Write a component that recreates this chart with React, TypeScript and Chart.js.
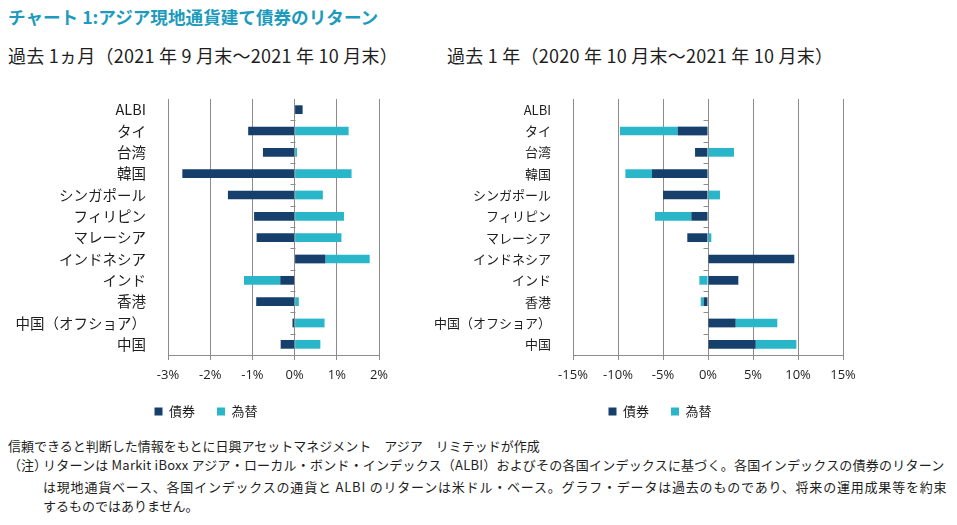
import React, { useEffect, useRef } from "react";
import { Chart, registerables } from "chart.js";

Chart.register(...registerables);

// ---- data ----
const categories = [
  "ALBI",
  "タイ",
  "台湾",
  "韓国",
  "シンガポール",
  "フィリピン",
  "マレーシア",
  "インドネシア",
  "インド",
  "香港",
  "中国（オフショア）",
  "中国",
];
const seriesNames = ["債券", "為替"];

// 過去1ヵ月 (%)
const monthBond = [0.19, -1.1, -0.75, -2.66, -1.58, -0.96, -0.9, 0.73, -0.34, -0.91, -0.05, -0.33];
const monthFx = [0, 1.28, 0.06, 1.35, 0.67, 1.17, 1.11, 1.05, -0.86, 0.1, 0.71, 0.61];

// 過去1年 (%)
const yearBond = [null, -3.37, -1.44, -6.22, -5.0, -1.85, -2.3, 9.59, 3.37, -0.48, 3.07, 5.3];
const yearFx = [null, -6.41, 2.89, -2.96, 1.33, -4.04, 0.37, 0, -0.96, -0.33, 4.63, 4.52];

const monthAxis = { min: -3, max: 2, step: 1 };
const yearAxis = { min: -15, max: 15, step: 5 };

const titleText = "チャート 1:アジア現地通貨建て債券のリターン";
const leftSubtitle = "過去 1ヵ月（2021 年 9 月末～2021 年 10 月末）";
const rightSubtitle = "過去 1 年（2020 年 10 月末～2021 年 10 月末）";
const footerLines = [
  "信頼できると判断した情報をもとに日興アセットマネジメント　アジア　リミテッドが作成",
  "（注）",
  "リターンは  Markit iBoxx  アジア・ローカル・ボンド・インデックス（ALBI）およびその各国インデックスに基づく。各国インデックスの債券のリターン",
  "は現地通貨ベース、各国インデックスの通貨と ALBI のリターンは米ドル・ベース。グラフ・データは過去のものであり、将来の運用成果等を約束",
  "するものではありません。",
];

// ---- styles ----
const BOND_COLOR = "#173f6b";
const FX_COLOR = "#2ab6c9";
const GRID_COLOR = "#8c8c8c";
const TEXT_COLOR = "#1e1e1e";
const JP_FONT = "'Noto Sans CJK JP', 'Noto Sans', sans-serif";

const zeroTicks = {
  id: "zeroTicks",
  afterDatasetsDraw(chart: any) {
    const { ctx, scales } = chart;
    const x = scales.x;
    const y = scales.y;
    const x0 = Math.round(x.getPixelForValue(0)) + 0.5;
    ctx.save();
    ctx.strokeStyle = GRID_COLOR;
    ctx.lineWidth = 1;
    for (let i = 0; i < categories.length - 1; i++) {
      const yy = Math.round((y.getPixelForValue(i) + y.getPixelForValue(i + 1)) / 2) + 0.5;
      ctx.beginPath();
      ctx.moveTo(x0 - 5, yy);
      ctx.lineTo(x0, yy);
      ctx.stroke();
    }
    ctx.restore();
  },
};

type Props = {
  left: number;
  width: number;
  bond: (number | null)[];
  fx: (number | null)[];
  axis: { min: number; max: number; step: number };
  yAxisW: number;
  rightW: number;
  labelSize: number;
};

const TOP = 88;
const HEIGHT = 340;

function BarChart({ left, width, bond, fx, axis, yAxisW, rightW, labelSize }: Props) {
  const ref = useRef<HTMLCanvasElement>(null);
  useEffect(() => {
    if (!ref.current) return;
    const chart = new Chart(ref.current, {
      type: "bar",
      data: {
        labels: categories,
        datasets: [
          {
            label: seriesNames[0],
            data: bond as any,
            backgroundColor: BOND_COLOR,
            barPercentage: 0.41,
            categoryPercentage: 1,
          },
          {
            label: seriesNames[1],
            data: fx as any,
            backgroundColor: FX_COLOR,
            barPercentage: 0.41,
            categoryPercentage: 1,
          },
        ],
      },
      options: {
        animation: false,
        responsive: false,
        indexAxis: "y",
        layout: { padding: { left: 0, right: 0, top: 11, bottom: 0 } },
        plugins: {
          legend: {
            position: "bottom",
            labels: {
              boxWidth: 8,
              boxHeight: 8,
              padding: 22,
              color: TEXT_COLOR,
              font: { family: JP_FONT, size: 13 },
            },
          },
          tooltip: { enabled: false },
        },
        scales: {
          x: {
            stacked: true,
            min: axis.min,
            max: axis.max,
            ticks: {
              stepSize: axis.step,
              callback: (v: any) => v + "%",
              color: TEXT_COLOR,
              padding: 7,
              font: { family: "'Open Sans', sans-serif", size: 13 },
            },
            grid: { color: GRID_COLOR, tickLength: 5, drawTicks: true },
            border: { display: true, color: GRID_COLOR },
            afterFit: (s: any) => {
              s.height = 28;
              s.paddingLeft = 0;
              s.paddingRight = 0;
            },
          },
          y: {
            stacked: true,
            ticks: {
              color: TEXT_COLOR,
              padding: 14,
              font: { family: JP_FONT, size: labelSize },
            },
            grid: { display: false },
            border: { display: false },
            afterFit: (s: any) => {
              s.width = yAxisW;
              s.paddingTop = 0;
              s.paddingBottom = 0;
            },
          },
          yRight: {
            type: "category",
            axis: "y",
            position: "right",
            ticks: { display: false },
            grid: { display: false, drawTicks: false },
            border: { display: false },
            afterFit: (s: any) => {
              s.width = rightW;
              s.paddingTop = 0;
              s.paddingBottom = 0;
            },
          },
        },
      } as any,
      plugins: [zeroTicks],
    });
    return () => chart.destroy();
  }, []);
  return (
    <canvas
      ref={ref}
      width={width}
      height={HEIGHT}
      style={{ position: "absolute", left, top: TOP, width, height: HEIGHT }}
    />
  );
}

export default function App() {
  const lineStyle: React.CSSProperties = {
    position: "absolute",
    whiteSpace: "nowrap",
    fontSize: 13,
    lineHeight: "18px",
    color: TEXT_COLOR,
  };
  const subStyle: React.CSSProperties = {
    position: "absolute",
    top: 42,
    fontSize: 18,
    lineHeight: "26px",
    letterSpacing: "0.25px",
    color: TEXT_COLOR,
    whiteSpace: "nowrap",
  };
  return (
    <div
      style={{
        position: "absolute",
        left: 0,
        top: 0,
        width: 957,
        height: 525,
        background: "#ffffff",
        fontFamily: JP_FONT,
        overflow: "hidden",
      }}
    >
      <div
        style={{
          position: "absolute",
          left: 8,
          top: 6,
          fontSize: 17.6,
          lineHeight: "22px",
          fontWeight: 700,
          color: "#1d9bbd",
          whiteSpace: "nowrap",
        }}
      >
        {titleText}
      </div>
      <div style={{ ...subStyle, left: 8 }}>{leftSubtitle}</div>
      <div style={{ ...subStyle, left: 447 }}>{rightSubtitle}</div>

      <BarChart left={0} width={412} bond={monthBond} fx={monthFx} axis={monthAxis} yAxisW={168} rightW={33} labelSize={14.5} />
      <BarChart left={430} width={460} bond={yearBond} fx={yearFx} axis={yearAxis} yAxisW={143} rightW={47} labelSize={13} />

      <div style={{ ...lineStyle, left: 8, top: 437 }}>{footerLines[0]}</div>
      <div style={{ ...lineStyle, left: 8, top: 456 }}>{footerLines[1]}</div>
      <div style={{ ...lineStyle, left: 43, top: 456, letterSpacing: "0.22px" }}>{footerLines[2]}</div>
      <div style={{ ...lineStyle, left: 43, top: 478, letterSpacing: "0.8px" }}>{footerLines[3]}</div>
      <div style={{ ...lineStyle, left: 43, top: 497 }}>{footerLines[4]}</div>
    </div>
  );
}
